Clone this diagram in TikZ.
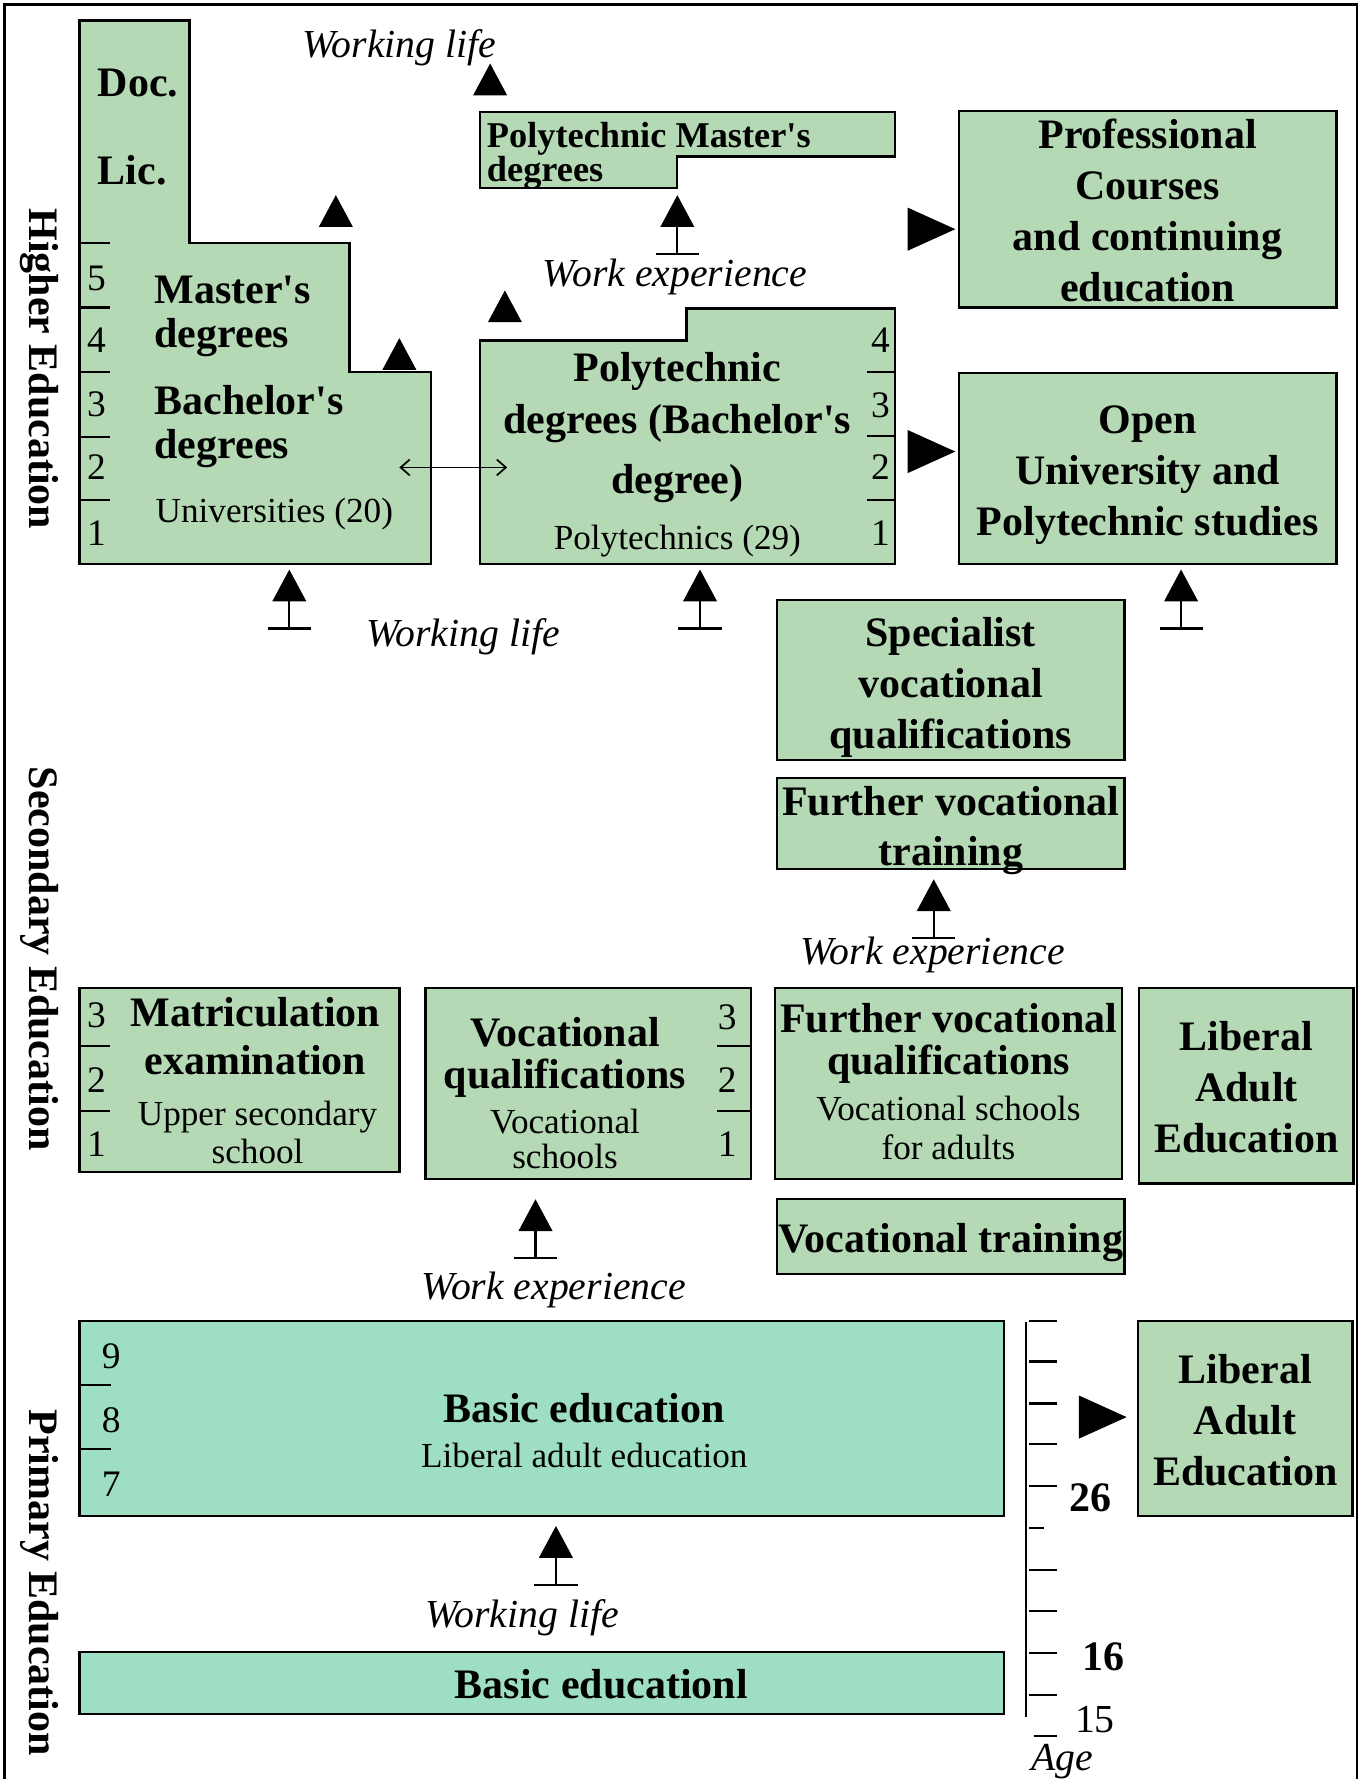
\documentclass[tikz,border=0pt]{standalone}
\usepackage{fontspec}
\setmainfont{Liberation Serif}
\usetikzlibrary{arrows.meta}
\definecolor{gfill}{RGB}{180,217,180}
\definecolor{tfill}{RGB}{158,222,194}
\newcommand\apo{\textquotesingle}
\tikzset{
  outline/.style={draw=black, line width=2pt, fill=gfill},
  gbox/.style={outline, inner sep=0pt, outer sep=0pt, align=center},
  tbox/.style={gbox, fill=tfill},
  bt/.style={font=\bfseries\fontsize{37}{45}\selectfont, inner sep=0pt, align=center},
  rt/.style={font=\fontsize{31}{34}\selectfont, inner sep=0pt, align=center},
  it/.style={font=\itshape\fontsize{35}{40}\selectfont, inner sep=0pt},
  num/.style={font=\fontsize{33}{36}\selectfont, inner sep=0pt},
  sec/.style={font=\bfseries\fontsize{37}{40}\selectfont, rotate=-90, inner sep=0pt},
  tick/.style={line width=2pt},
  frameline/.style={line width=2.5pt},
  uptri/.pic={\fill[black] (-15,28) -- (0,0) -- (15,28) -- cycle;},
  stemup/.pic={\fill[black] (-15,28) -- (0,0) -- (15,28) -- cycle;
     \draw[line width=2pt] (0,27) -- (0,52) (-19,52) -- (19,52);},
  rtri/.pic={\fill[black] (0,-19) -- (42,0) -- (0,19) -- cycle;},
}
\begin{document}
\begin{tikzpicture}[x=1pt,y=-1pt]
\useasboundingbox (0,0) rectangle (1200,1568);
\draw[frameline] (4,1600) -- (4,4) -- (1196,4) -- (1196,1600);

% section labels
\node[sec] (lhigh) at (35,325) {Higher Education};
\node[sec] (lsec) at (35,845) {Secondary Education};
\node[sec] (lprim) at (35,1395) {Primary Education};

% ---------- Universities ----------
\draw[outline] (70,18) -- (167,18) -- (167,214) -- (308,214) -- (308,328) -- (380,328) -- (380,497) -- (70,497) -- cycle;
\foreach \y in {214,271,328,385,441} \draw[tick] (70,\y) -- (97,\y);
\node[num] (u5) at (85,245) {5};
\node[num] (u4) at (85,300) {4};
\node[num] (u3) at (85,356) {3};
\node[num] (u2) at (85,412) {2};
\node[num] (u1) at (85,470) {1};
\node[bt, anchor=west] (doc) at (86,73) {Doc.};
\node[bt, anchor=west] (lic) at (86,150) {Lic.};
\node[bt, anchor=west, align=left, font=\bfseries\fontsize{37}{39}\selectfont] (mast) at (136,279) {Master\apo s\\degrees};
\node[bt, anchor=west, align=left, font=\bfseries\fontsize{37}{39}\selectfont] (bach) at (136,376) {Bachelor\apo s\\degrees};
\node[rt, anchor=west] (univ) at (137,453) {Universities (20)};

% ---------- Polytechnic Master ----------
\draw[outline] (423,99) -- (789,99) -- (789,138) -- (597,138) -- (597,166) -- (423,166) -- cycle;
\node[bt, anchor=west, align=left, font=\bfseries\fontsize{32}{30}\selectfont] (pmast) at (429,137) {Polytechnic Master\apo s\\degrees};

% ---------- Polytechnic Bachelor ----------
\draw[outline] (423,300) -- (605,300) -- (605,272) -- (789,272) -- (789,497) -- (423,497) -- cycle;
\foreach \y in {328,384,441} \draw[tick] (764,\y) -- (789,\y);
\node[num] (p4) at (776,300) {4};
\node[num] (p3) at (776,357) {3};
\node[num] (p2) at (776,412) {2};
\node[num] (p1) at (776,470) {1};
\node[bt] (pb1) at (597,327) {Polytechnic};
\node[bt] (pb2) at (597,373) {degrees (Bachelor\apo s};
\node[bt] (pb3) at (597,426) {degree)};
\node[rt] (pb4) at (597,477) {Polytechnics (29)};

\coordinate (da1) at (352,412);
\coordinate (da2) at (447,412);
\draw[line width=1.5pt, {Straight Barb[length=8pt,width=14pt]}-{Straight Barb[length=8pt,width=14pt]}] (da1) -- (da2);

% ---------- right column top ----------
\node[gbox, minimum width=333pt, minimum height=173pt] (prof) at (1011.5,184.5) {};
\node[bt] (proft) at ([yshift=-1pt]prof.center) {Professional\\Courses\\and continuing\\education};
\node[gbox, minimum width=333pt, minimum height=168pt] (open) at (1011.5,413) {};
\node[bt] (opent) at ([yshift=-6pt]open.center) {Open\\University and\\Polytechnic studies};

% arrows top
\pic at (296,172) {uptri};
\pic at (352,298) {uptri};
\pic at (445,256) {uptri};
\pic at (432,56) {uptri};
\pic at (597,172) {stemup};
\pic at (800,202) {rtri};
\pic at (800,398) {rtri};
\node[it] (wl1) at (352,42) {Working life};
\node[it] (we1) at (595,244) {Work experience};

% arrows below higher education
\pic at (255,502) {stemup};
\pic at (617,502) {stemup};
\pic at (1041,502) {stemup};
\node[it] (wl2) at (408,561) {Working life};

% ---------- specialist column ----------
\node[gbox, minimum width=306pt, minimum height=141pt] (spec) at (838,599.5) {};
\node[bt] (spect) at ([yshift=-6pt]spec.center) {Specialist\\vocational\\qualifications};
\node[gbox, minimum width=306pt, minimum height=80pt] (fvt) at (838,726) {};
\node[bt, font=\bfseries\fontsize{37}{44}\selectfont] (fvtt) at ([yshift=-6pt]fvt.center) {Further vocational\\training};
\pic at (823,775) {stemup};
\node[it] (we2) at (822,842) {Work experience};

% ---------- secondary row ----------
\node[gbox, minimum width=282pt, minimum height=162pt] (matr) at (211,952) {};
\foreach \y in {922,979} \draw[tick] (70,\y) -- (97,\y);
\node[num] (m3) at (85,895) {3};
\node[num] (m2) at (85,952) {2};
\node[num] (m1) at (85,1008) {1};
\node[bt, font=\bfseries\fontsize{37}{42}\selectfont] (matrt) at (225,913) {Matriculation\\examination};
\node[rt, font=\fontsize{31}{33}\selectfont] (upper) at (227,998) {Upper secondary\\school};

\node[gbox, minimum width=287pt, minimum height=168pt] (voc) at (518.5,955) {};
\foreach \y in {922,979} \draw[tick] (632,\y) -- (662,\y);
\node[num] (v3) at (641,897) {3};
\node[num] (v2) at (641,952) {2};
\node[num] (v1) at (641,1008) {1};
\node[bt, font=\bfseries\fontsize{37}{37}\selectfont] (voct) at (498,932) {Vocational\\qualifications};
\node[rt, font=\fontsize{31}{31}\selectfont] (vocs) at (498,1004) {Vocational\\schools};

\node[gbox, minimum width=306pt, minimum height=168pt] (fvq) at (836,955) {};
\node[bt, font=\bfseries\fontsize{37}{37}\selectfont] (fvqt) at (836,920) {Further vocational\\qualifications};
\node[rt, font=\fontsize{31}{34}\selectfont] (fvqs) at (836,994) {Vocational schools\\for adults};

\node[gbox, minimum width=189pt, minimum height=172pt] (lib1) at (1098.5,957) {};
\node[bt] (lib1t) at ([yshift=-1pt]lib1.center) {Liberal\\Adult\\Education};
\node[gbox, minimum width=306pt, minimum height=66pt] (vt) at (838,1090) {};
\node[bt] (vtt) at ([yshift=-5pt]vt.center) {Vocational training};

\pic at (472,1057) {stemup};
\node[it] (we3) at (488,1137) {Work experience};

% ---------- primary ----------
\node[tbox, minimum width=815pt, minimum height=172pt] (basic) at (477.5,1250) {};
\foreach \y in {1221,1277} \draw[tick] (70,\y) -- (98,\y);
\node[num] (b9) at (98,1195) {9};
\node[num] (b8) at (98,1252) {8};
\node[num] (b7) at (98,1308) {7};
\node[bt] (basict) at (515,1241) {Basic education};
\node[rt] (basics) at (515,1283) {Liberal adult education};

\pic at (490,1345) {stemup};
\node[it] (wl3) at (460,1426) {Working life};

\node[tbox, minimum width=815pt, minimum height=55pt] (basic2) at (477.5,1483.5) {};
\node[bt] (basic2t) at (530,1484) {Basic educationl};

% age axis
\draw[tick] (904,1165) -- (904,1513);
\foreach \y in {1164,1200,1237,1273,1310,1384,1420,1457,1494} \draw[tick] (907,\y) -- (932,\y);
\draw[tick] (907,1347) -- (920,1347);
\draw[tick] (911,1530) -- (932,1530);
\node[bt] (a26) at (961,1320) {26};
\node[bt] (a16) at (973,1460) {16};
\node[num, font=\fontsize{35}{38}\selectfont] (a15) at (965,1516) {15};
\node[it] (age) at (936,1553) {Age};

\pic at (951,1249) {rtri};
\node[gbox, minimum width=189pt, minimum height=172pt] (lib2) at (1097.5,1250) {};
\node[bt] (lib2t) at ([yshift=-2pt]lib2.center) {Liberal\\Adult\\Education};
\end{tikzpicture}
\end{document}
